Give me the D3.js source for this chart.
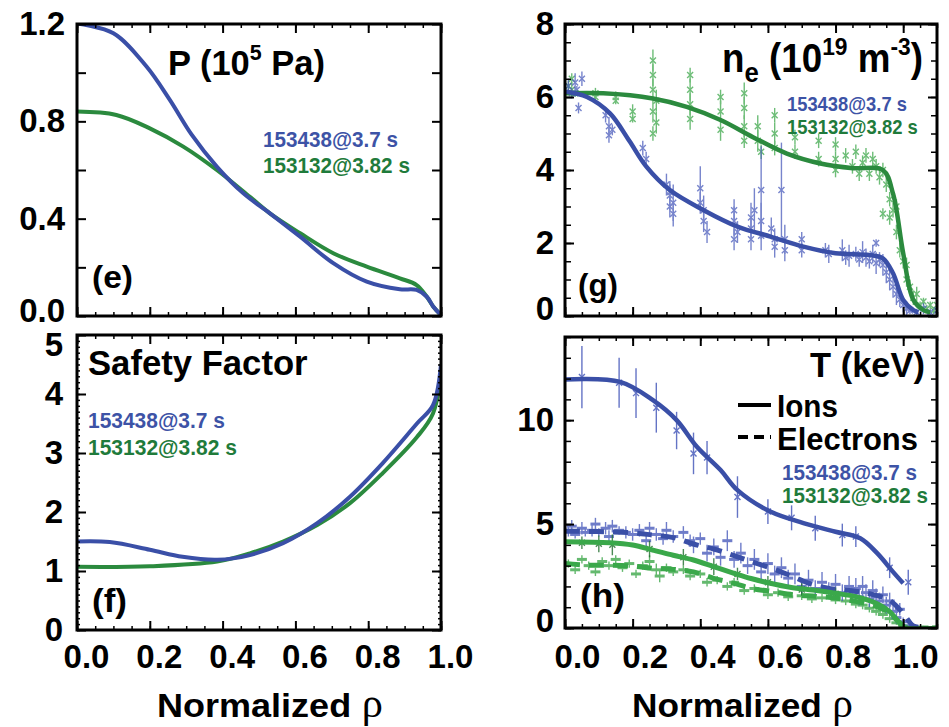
<!DOCTYPE html>
<html><head><meta charset="utf-8">
<script src="https://cdn.jsdelivr.net/npm/d3@7"></script>
<style>
body{margin:0;background:#fff}
svg{display:block}
text{font-family:"Liberation Sans",Arial,Helvetica,sans-serif;font-weight:bold}
</style>
</head><body>
<script>
// ---------------- DATA ----------------
const rhoTickLabels = [0, 0.2, 0.4, 0.6, 0.8, 1.0];
const pTickLabels = [0, 0.4, 0.8, 1.2];
const qTickLabels = [0, 1, 2, 3, 4, 5];
const neTickLabels = [0, 2, 4, 6, 8];
const tTickLabels = [0, 5, 10];
const shotLabels = ["153438@3.7 s", "153132@3.82 s"];

// (e) pressure, 1e5 Pa
const pBlue = [[0,1.202],[0.1,1.162],[0.191,1.025],[0.255,0.888],[0.315,0.745],[0.384,0.614],[0.457,0.504],[0.53,0.422],[0.613,0.326],[0.704,0.217],[0.796,0.141],[0.887,0.110],[0.933,0.107],[0.961,0.079],[0.979,0.038],[1.0,0.004]];
const pGreen = [[0,0.84],[0.108,0.826],[0.2,0.771],[0.292,0.696],[0.384,0.6],[0.475,0.49],[0.53,0.422],[0.613,0.34],[0.704,0.258],[0.796,0.203],[0.887,0.155],[0.933,0.127],[0.961,0.079],[0.979,0.038],[1.0,0.004]];

// (f) safety factor
const qBlue = [[0,1.5],[0.09,1.49],[0.2,1.36],[0.29,1.24],[0.385,1.19],[0.475,1.27],[0.566,1.47],[0.66,1.81],[0.75,2.26],[0.84,2.83],[0.934,3.5],[0.978,3.81],[1.0,4.5]];
const qGreen = [[0,1.07],[0.2,1.08],[0.385,1.16],[0.475,1.3],[0.566,1.5],[0.66,1.78],[0.75,2.15],[0.84,2.66],[0.934,3.27],[0.978,3.67],[1.0,4.35]];

// (g) electron density fits, 1e19 m^-3
const neBlueFit = [[0,6.15],[0.065,6.0],[0.133,5.55],[0.19,4.8],[0.24,4.1],[0.31,3.45],[0.41,2.9],[0.51,2.45],[0.61,2.17],[0.705,1.9],[0.8,1.72],[0.9,1.67],[0.94,1.58],[0.97,1.17],[1.0,0.44],[1.03,0.16],[1.045,0.1]];
const neGreenFit = [[0,6.1],[0.113,6.1],[0.26,5.96],[0.36,5.73],[0.46,5.37],[0.556,4.9],[0.656,4.45],[0.755,4.18],[0.852,4.05],[0.94,4.0],[0.97,3.35],[1.0,1.72],[1.03,0.44],[1.06,0.16],[1.08,0.1]];
// measured points [rho, value, half error]
const neBlueData = [[0.01,6.3,0.2],[0.02,6.1,0.15],[0.03,6.4,0.25],[0.04,5.7,0.15],[0.05,6.5,0.2],[0.035,6.2,0.1],
 [0.12,5.5,0.2],[0.13,5.2,0.25],[0.13,4.95,0.2],[0.14,5.1,0.15],[0.23,4.6,0.2],[0.24,4.3,0.2],
 [0.3,3.6,0.3],[0.31,3.3,0.4],[0.31,3.0,0.3],[0.32,2.8,0.35],[0.31,3.4,0.2],[0.32,3.1,0.5],
 [0.4,3.5,0.6],[0.41,2.9,0.4],[0.41,2.6,0.3],[0.42,2.3,0.3],[0.4,3.1,0.3],
 [0.5,2.9,0.3],[0.5,2.6,0.4],[0.51,2.3,0.3],[0.5,2.1,0.3],
 [0.55,2.7,0.4],[0.55,2.4,0.3],[0.55,2.1,0.3],[0.56,2.9,0.6],
 [0.58,3.45,1.2],[0.58,2.6,0.5],[0.58,2.2,0.4],
 [0.61,2.4,0.3],[0.62,2.1,0.3],[0.62,1.9,0.3],
 [0.64,3.45,1.3],[0.65,2.1,0.4],[0.65,1.8,0.3],
 [0.7,2.1,0.2],[0.7,1.8,0.2],[0.77,1.8,0.2],[0.78,1.7,0.25],
 [0.82,1.8,0.3],[0.83,1.6,0.2],[0.84,1.65,0.3],[0.86,1.7,0.2],[0.87,1.55,0.2],[0.88,1.75,0.3],[0.89,1.6,0.25],
 [0.9,1.5,0.2],[0.91,1.7,0.25],[0.92,1.45,0.3],[0.93,1.55,0.2],[0.92,2.0,0.1],
 [0.94,1.4,0.3],[0.95,1.2,0.3],[0.96,1.0,0.3],[0.97,0.8,0.3],[0.98,0.6,0.3],[0.99,0.45,0.2],[1.0,0.3,0.2],[1.01,0.2,0.2],[1.02,0.15,0.1],
 [1.04,0.1,0.1],[1.06,0.2,0.15],[1.08,0.1,0.1],[1.1,0.15,0.1]];
const neGreenData = [[0.01,6.3,0.15],[0.02,6.5,0.15],[0.03,6.1,0.1],[0.02,6.2,0.2],[0.09,6.1,0.15],[0.09,6.0,0.1],
 [0.15,6.0,0.15],[0.15,5.9,0.1],[0.2,5.6,0.2],[0.2,5.4,0.1],
 [0.26,7.0,0.3],[0.26,6.6,0.3],[0.26,6.2,0.3],[0.27,5.9,0.3],[0.26,5.6,0.3],[0.27,5.3,0.3],[0.26,5.0,0.2],
 [0.37,6.6,0.2],[0.37,6.2,0.3],[0.37,5.8,0.3],[0.37,5.4,0.3],
 [0.46,6.0,0.2],[0.46,5.6,0.3],[0.46,5.1,0.3],
 [0.53,6.1,0.3],[0.53,5.7,0.3],[0.53,5.2,0.3],[0.53,4.8,0.2],
 [0.57,5.2,0.3],[0.57,4.8,0.3],[0.58,4.5,0.2],[0.62,5.5,0.2],[0.62,5.0,0.3],[0.62,4.6,0.2],
 [0.68,4.9,0.2],[0.68,4.5,0.2],[0.75,4.8,0.2],[0.75,4.3,0.2],[0.8,4.7,0.2],[0.8,4.3,0.2],[0.8,4.0,0.2],
 [0.83,4.4,0.2],[0.85,4.1,0.2],[0.86,4.5,0.2],[0.87,3.9,0.2],[0.88,4.2,0.2],[0.89,4.4,0.2],[0.9,3.9,0.2],[0.91,4.3,0.2],[0.92,4.1,0.2],[0.93,3.8,0.2],[0.94,4.0,0.2],[0.94,2.8,0.15],
 [0.95,3.6,0.2],[0.96,3.2,0.2],[0.96,2.7,0.2],[0.97,2.9,0.2],[0.98,2.3,0.2],[0.98,3.0,0.2],[0.99,1.8,0.2],[1.0,1.5,0.2],[1.01,1.0,0.2],[1.01,1.4,0.2],[1.02,0.8,0.2],[1.03,0.5,0.2],[1.04,0.6,0.2],
 [1.05,0.3,0.1],[1.06,0.4,0.1],[1.07,0.2,0.1],[1.08,0.3,0.1],[1.09,0.15,0.1],[1.1,0.3,0.1]];

// (h) temperatures, keV
const tiBlueFit = [[0,11.96],[0.163,11.84],[0.26,10.96],[0.33,10.0],[0.39,8.72],[0.46,7.6],[0.51,6.63],[0.607,5.6],[0.705,5.05],[0.8,4.63],[0.873,4.32],[0.923,3.6],[0.97,2.7],[1.0,2.15]];
const teBlueFit = [[0,4.66],[0.1,4.64],[0.2,4.58],[0.26,4.47],[0.32,4.35],[0.38,4.04],[0.44,3.8],[0.5,3.48],[0.55,3.2],[0.615,2.85],[0.665,2.53],[0.725,2.13],[0.785,1.89],[0.84,1.81],[0.9,1.65],[0.96,1.33],[1.0,0.7],[1.03,0.1],[1.06,0.02]];
const tiGreenFit = [[0,4.15],[0.133,4.1],[0.2,3.99],[0.26,3.75],[0.32,3.5],[0.38,3.27],[0.44,2.95],[0.5,2.63],[0.55,2.38],[0.607,2.15],[0.665,1.96],[0.745,1.8],[0.8,1.67],[0.86,1.51],[0.92,1.19],[0.96,0.79],[0.99,0.23],[1.01,0.0],[1.1,0.0]];
const teGreenFit = [[0,3.1],[0.07,3.02],[0.133,3.02],[0.2,2.98],[0.26,2.87],[0.32,2.82],[0.38,2.7],[0.44,2.39],[0.5,2.15],[0.55,1.91],[0.615,1.75],[0.675,1.6],[0.745,1.52],[0.8,1.44],[0.86,1.28],[0.92,1.04],[0.96,0.72],[0.99,0.24],[1.01,0.0],[1.1,0.0]];
const tiBlueData = [[0.05,12.07,1.5],[0.16,11.8,1.2],[0.21,11.3,1.2],[0.27,10.6,1.2],[0.33,9.5,0.9],[0.38,8.4,1.0],[0.42,8.2,0.8],[0.51,6.3,1.0],[0.6,5.6,0.6],[0.67,5.3,0.6],[0.74,4.8,0.6],[0.82,4.47,0.55],[0.86,4.4,0.5],[0.96,2.9,0.5],[1.015,2.2,0.6]];
const tiGreenData = [[0.05,4.1,0.3],[0.1,4.05,0.4],[0.14,4.0,0.5],[0.25,3.8,0.4],[0.35,3.4,0.4],[0.44,2.95,0.4],[0.51,2.6,0.3],[0.6,2.2,0.3],[0.7,1.85,0.3],[0.8,1.65,0.3]];
const teBlueData = [[0.01,4.7,0.3],[0.02,4.9,0.3],[0.03,4.5,0.2],[0.05,4.8,0.3],[0.06,4.6,0.2],[0.08,4.7,0.3],[0.09,5.0,0.3],[0.1,4.6,0.2],[0.12,4.8,0.3],[0.13,4.4,0.3],[0.14,4.9,0.3],[0.16,4.7,0.2],[0.18,4.6,0.3],[0.2,4.5,0.3],[0.22,4.7,0.3],[0.24,4.2,0.3],[0.25,4.8,0.3],[0.27,4.5,0.3],[0.29,4.3,0.3],[0.3,4.7,0.4],[0.32,4.4,0.3],[0.35,4.6,0.3],[0.37,4.2,0.3],[0.38,4.0,0.4],[0.4,4.3,0.3],[0.42,3.6,0.4],[0.44,3.9,0.4],[0.46,3.4,0.4],[0.48,4.2,0.5],[0.5,3.3,0.4],[0.52,3.6,0.5],[0.54,3.0,0.4],[0.56,3.3,0.5],[0.58,2.7,0.4],[0.6,3.1,0.5],[0.62,2.6,0.4],[0.64,2.9,0.5],[0.66,2.4,0.4],[0.68,2.6,0.5],[0.7,2.0,0.4],[0.72,2.3,0.5],[0.74,1.9,0.4],[0.76,2.2,0.5],[0.78,1.8,0.4],[0.8,2.1,0.5],[0.82,1.7,0.4],[0.84,2.0,0.5],[0.85,1.6,0.4],[0.86,1.9,0.5],[0.87,1.5,0.4],[0.88,2.0,0.5],[0.89,1.7,0.4],[0.9,1.4,0.4],[0.91,1.8,0.5],[0.92,1.5,0.4],[0.93,1.3,0.4],[0.94,1.6,0.4],[0.95,1.1,0.4],[0.96,1.3,0.4],[0.97,0.8,0.3],[0.98,0.5,0.3],[0.99,0.9,0.3],[1.0,0.3,0.2],[1.02,0.1,0.1]];
const teGreenData = [[0.01,3.1,0.2],[0.03,2.8,0.2],[0.05,3.3,0.2],[0.07,3.0,0.2],[0.09,2.7,0.2],[0.11,3.2,0.2],[0.13,3.0,0.2],[0.15,3.3,0.2],[0.17,2.9,0.2],[0.19,3.1,0.2],[0.21,2.6,0.2],[0.23,3.0,0.2],[0.25,3.2,0.3],[0.27,2.8,0.3],[0.28,2.5,0.3],[0.3,2.9,0.2],[0.32,2.7,0.2],[0.35,2.8,0.2],[0.37,2.5,0.2],[0.4,2.6,0.2],[0.42,2.2,0.2],[0.45,2.3,0.2],[0.48,2.0,0.2],[0.5,2.2,0.2],[0.53,1.8,0.2],[0.56,1.9,0.2],[0.6,1.6,0.2],[0.63,1.7,0.2],[0.66,1.5,0.2],[0.7,1.55,0.2],[0.73,1.4,0.2],[0.76,1.45,0.2],[0.8,1.35,0.2],[0.83,1.3,0.2],[0.86,1.15,0.2],[0.88,1.1,0.2],[0.9,0.95,0.2],[0.92,0.8,0.2],[0.94,0.65,0.2],[0.96,0.45,0.2],[0.98,0.25,0.1],[1.0,0.1,0.1],[1.03,0.05,0.05],[1.06,0.05,0.05],[1.1,0.05,0.05]];

// ---------------- STYLE ----------------
const BLUE = "#3a4fa7", GREEN = "#2b8a3e", GREEN_H = "#3aa84a";
const BLUE_TXT = "#3d53a6", GREEN_TXT = "#1f7b3b";
const BLUE_PT = "#4a5cbc", GREEN_PT = "#3ea84b";

const W = 949, H = 727;
const svg = d3.select("body").append("svg").attr("width", W).attr("height", H);
const defs = svg.append("defs");

function makePanel(id, x0, x1, y0, y1, xd, yd) {
  const x = d3.scaleLinear().domain(xd).range([x0, x1]);
  const y = d3.scaleLinear().domain(yd).range([y0, y1]);
  defs.append("clipPath").attr("id", "clip-" + id).append("rect")
    .attr("x", x0).attr("y", y1).attr("width", x1 - x0).attr("height", y0 - y1);
  const g = svg.append("g");
  const plot = g.append("g").attr("clip-path", `url(#clip-${id})`);
  return {id, x, y, x0, x1, y0, y1, g, plot};
}

function axes(P, o) {
  const style = (s, sw) => { s.select(".domain").remove(); s.selectAll("line").attr("stroke", "#000").attr("stroke-width", sw); };
  const add = (gen, tr, sw) => P.g.append("g").attr("transform", tr).call(gen).call(s => style(s, sw));
  const none = () => "";
  if (o.yMinor) {
    add(d3.axisLeft(P.y).tickValues(o.yMinor).tickSizeInner(-o.yMinorLen).tickSizeOuter(0).tickFormat(none), `translate(${P.x0},0)`, 1.5);
    add(d3.axisRight(P.y).tickValues(o.yMinor).tickSizeInner(-o.yMinorLen).tickSizeOuter(0).tickFormat(none), `translate(${P.x1},0)`, 1.5);
  }
  add(d3.axisBottom(P.x).tickValues(o.xMinor).tickSizeInner(-4).tickSizeOuter(0).tickFormat(none), `translate(0,${P.y0})`, 1.5);
  add(d3.axisTop(P.x).tickValues(o.xMinor).tickSizeInner(-4).tickSizeOuter(0).tickFormat(none), `translate(0,${P.y1})`, 1.5);
  const yl = add(d3.axisLeft(P.y).tickValues(o.yMajor).tickSizeInner(-9).tickSizeOuter(0).tickPadding(o.yPad)
      .tickFormat(d => o.yLabels.some(v => Math.abs(v - d) < 1e-9) ? o.yFmt(d) : ""), `translate(${P.x0},0)`, 2);
  yl.selectAll("text").attr("font-size", 33).attr("fill", "#000").attr("font-family", null)
    .attr("transform", d => `translate(0,${(o.yShift && o.yShift(d)) || 0})`);
  add(d3.axisRight(P.y).tickValues(o.yMajor).tickSizeInner(-9).tickSizeOuter(0).tickFormat(none), `translate(${P.x1},0)`, 2);
  const xb = add(d3.axisBottom(P.x).tickValues(rhoTickLabels).tickSizeInner(-9).tickSizeOuter(0).tickPadding(o.xPad || 15)
      .tickFormat(o.xLabels ? d3.format(".1f") : none), `translate(0,${P.y0})`, 2);
  xb.selectAll("text").attr("font-size", 33).attr("fill", "#000").attr("dx", o.xdx || 0).attr("font-family", null);
  add(d3.axisTop(P.x).tickValues(rhoTickLabels).tickSizeInner(-9).tickSizeOuter(0).tickFormat(none), `translate(0,${P.y1})`, 2);
  P.g.append("rect").attr("x", P.x0).attr("y", P.y1).attr("width", P.x1 - P.x0).attr("height", P.y0 - P.y1)
    .attr("fill", "none").attr("stroke", "#000").attr("stroke-width", 3);
}

function curve(P, data, color, width, dash) {
  const line = d3.line().x(d => P.x(d[0])).y(d => P.y(d[1])).curve(d3.curveCatmullRom.alpha(0.5));
  P.plot.append("path").datum(data).attr("d", line).attr("fill", "none")
    .attr("stroke", color).attr("stroke-width", width).attr("stroke-linecap", "butt")
    .attr("stroke-linejoin", "round").attr("stroke-dasharray", dash || null);
}

function points(P, data, color, marker, opacity) {
  const g = P.plot.append("g").attr("stroke", color).attr("opacity", opacity);
  const s = g.selectAll("g").data(data).join("g");
  s.append("line").attr("x1", d => P.x(d[0])).attr("x2", d => P.x(d[0]))
    .attr("y1", d => P.y(d[1] - d[2])).attr("y2", d => P.y(d[1] + d[2])).attr("stroke-width", 1.4);
  if (marker === "x") {
    s.append("path").attr("d", d => { const cx = P.x(d[0]), cy = P.y(d[1]); return `M${cx-3},${cy-3}L${cx+3},${cy+3}M${cx-3},${cy+3}L${cx+3},${cy-3}`; })
      .attr("stroke-width", 1.4).attr("fill", "none");
  } else {
    s.append("path").attr("d", d => { const cx = P.x(d[0]), cy = P.y(d[1]); return `M${cx-5},${cy}L${cx+5},${cy}`; })
      .attr("stroke-width", 3).attr("fill", "none");
  }
}

function label(x, y, parts, size, width, color, anchor) {
  const g = svg.append("g").attr("transform", `translate(${x},${y})`);
  const t = g.append("text").attr("font-size", size).attr("fill", color || "#000")
    .attr("text-anchor", anchor || "start");
  let shift = 0;
  parts.forEach(p => {
    const sp = t.append("tspan").text(p.t);
    let target = 0;
    if (p.sup) { sp.attr("font-size", size * 0.62); target = -size * 0.42; }
    else if (p.sub) { sp.attr("font-size", size * 0.7); target = size * 0.24; }
    if (target !== shift) { sp.attr("dy", target - shift); shift = target; }
    if (p.dx) sp.attr("dx", p.dx);
    if (p.serif) sp.attr("font-family", '"Liberation Serif","Times New Roman",serif').attr("font-weight", "normal").attr("font-size", p.size);
  });
  if (width) {
    const w = t.node().getBBox().width;
    g.attr("transform", `translate(${x},${y}) scale(${width / w},1)`);
  }
  return g;
}

// ---------------- PANELS ----------------
const xMinorL = d3.range(0, 1.0001, 0.05);
const xMinorR = d3.range(0, 1.1001, 0.05);

// (e)
const E = makePanel("e", 77, 441, 316, 24, [0, 1], [0, 1.2]);
axes(E, {yMajor: d3.range(0, 1.2001, 0.2), yLabels: pTickLabels, yFmt: d3.format(".1f"), yPad: 12, yShift: d => d === 0 ? -5 : 0, xMinor: xMinorL, xLabels: false});
curve(E, pGreen, GREEN, 4);
curve(E, pBlue, BLUE, 4);
label(168, 75, [{t: "P (10"}, {t: "5", sup: true}, {t: " Pa)"}], 35, 157);
label(263, 147, [{t: shotLabels[0]}], 22, 135, BLUE_TXT);
label(263, 173, [{t: shotLabels[1]}], 22, 147, GREEN_TXT);
label(92, 288, [{t: "(e)"}], 32, 41);

// (f)
const F = makePanel("f", 77, 441, 630, 335, [0, 1], [0, 5]);
axes(F, {yMajor: qTickLabels, yLabels: qTickLabels, yFmt: d3.format("d"), yPad: 14, yShift: d => d === 5 ? 10 : 0, yMinor: d3.range(0, 5.0001, 0.1), yMinorLen: 3, xMinor: xMinorL, xLabels: true, xPad: 15, xdx: 9});
curve(F, qGreen, GREEN, 4);
curve(F, qBlue, BLUE, 4);
label(88, 375, [{t: "Safety Factor"}], 35, 220);
label(88, 428, [{t: shotLabels[0]}], 22, 137, BLUE_TXT);
label(88, 455, [{t: shotLabels[1]}], 22, 149, GREEN_TXT);
label(92, 612, [{t: "(f)"}], 33, 35);

// (g)
const G = makePanel("g", 565, 937, 316, 24, [0, 1.1], [0, 8]);
axes(G, {yMajor: neTickLabels, yLabels: neTickLabels, yFmt: d3.format("d"), yPad: 11, yShift: d => d === 0 ? -7 : 0, yMinor: d3.range(0, 8.0001, 0.5), yMinorLen: 6, xMinor: xMinorR, xLabels: false});
points(G, neGreenData, GREEN_PT, "x", 0.75);
points(G, neBlueData, BLUE_PT, "x", 0.75);
curve(G, neGreenFit, GREEN, 4.5);
curve(G, neBlueFit, BLUE, 4.5);
label(722, 72, [{t: "n"}, {t: "e", sub: true}, {t: " (10"}, {t: "19", sup: true}, {t: " m"}, {t: "-3", sup: true}, {t: ")"}], 40, 201);
label(787, 111, [{t: shotLabels[0]}], 20, 120, BLUE_TXT);
label(787, 134, [{t: shotLabels[1]}], 20, 131, GREEN_TXT);
label(578, 296, [{t: "(g)"}], 31, 40);

// (h)
const Hp = makePanel("h", 565, 937, 628, 337, [0, 1.1], [0, 14]);
axes(Hp, {yMajor: tTickLabels, yLabels: tTickLabels, yFmt: d3.format("d"), yPad: 11, yShift: d => d === 0 ? -7 : 0, yMinor: d3.range(0, 14.0001, 1), yMinorLen: 6, xMinor: xMinorR, xLabels: true, xPad: 17, xdx: 12});
points(Hp, teGreenData, GREEN_PT, "+", 0.8);
points(Hp, teBlueData, BLUE_PT, "+", 0.8);
points(Hp, tiGreenData, "#1f6e2c", "x", 0.8);
points(Hp, tiBlueData, BLUE_PT, "x", 0.85);
curve(Hp, teGreenFit, GREEN_H, 5, "15,9");
curve(Hp, teBlueFit, BLUE, 5, "15,9");
curve(Hp, tiGreenFit, GREEN_H, 5);
curve(Hp, tiBlueFit, BLUE, 4.5);
label(925, 377, [{t: "T (keV)"}], 35, 115, "#000", "end");
svg.append("line").attr("x1", 738).attr("x2", 771).attr("y1", 405).attr("y2", 405).attr("stroke", "#000").attr("stroke-width", 4);
svg.append("line").attr("x1", 738).attr("x2", 771).attr("y1", 437).attr("y2", 437).attr("stroke", "#000").attr("stroke-width", 4).attr("stroke-dasharray", "10,6");
label(777, 417, [{t: "Ions"}], 31, 61);
label(777, 450, [{t: "Electrons"}], 32, 141);
label(782, 480, [{t: shotLabels[0]}], 22, 135, BLUE_TXT);
label(782, 503, [{t: shotLabels[1]}], 22, 146, GREEN_TXT);
label(580, 607, [{t: "(h)"}], 33, 45);

// x axis titles
label(157, 717, [{t: "Normalized"}, {t: "ρ", serif: true, size: 40, dx: 10}], 34, 226);
label(632, 717, [{t: "Normalized"}, {t: "ρ", serif: true, size: 40, dx: 10}], 34, 221);
</script>
</body></html>
